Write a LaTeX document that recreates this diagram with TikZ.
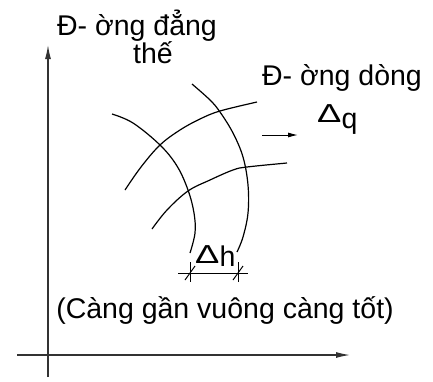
\documentclass[tikz,border=0pt]{standalone}
\usepackage{fontspec}
\usepackage{graphicx}
\setmainfont{Liberation Sans}
\usetikzlibrary{arrows.meta}
\newcommand{\dlt}[1]{\raisebox{#1}{\fontsize{26}{26}\selectfont\scalebox{1.4}[1]{Δ}}}
\begin{document}
\begin{tikzpicture}[x=1pt,y=-1pt,
  lbl/.style={inner sep=0pt,font=\fontsize{28.5}{30}\selectfont},
  curve/.style={line width=1.2pt,black,line join=round},
  axis/.style={line width=1.2pt,black!80,-{Latex[length=14pt,width=6pt]}},
  dim/.style={line width=1pt,black}]
\useasboundingbox (0,0) rectangle (433,381);
% axes
\coordinate (yb) at (48,377);
\coordinate (yt) at (48,45);
\coordinate (xl) at (17,355);
\coordinate (xr) at (350,355);
\draw[axis] (yb) -- (yt);
\draw[axis] (xl) -- (xr);
% equipotential lines
\draw[curve] plot[smooth,tension=0.6] coordinates {(112,114) (133,123) (160,145) (177,166) (188,190) (194,213) (195,233) (190,253)};
\draw[curve] plot[smooth,tension=0.6] coordinates {(192,84) (210,100) (220,112) (233,133) (243,157) (248,185) (248,213) (243,237) (237,252)};
% flow lines
\draw[curve] plot[smooth,tension=0.6] coordinates {(125,190) (141,167) (160,145) (180,130) (200,119) (220,111) (257,102)};
\draw[curve] plot[smooth,tension=0.6] coordinates {(152,229) (167,210) (188,191) (210,180) (233,170) (247,167) (287,163)};
% flow arrow
\coordinate (a1) at (262,135);
\coordinate (a2) at (298,135);
\draw[line width=1pt,-{Latex[length=10pt,width=5pt]}] (a1) -- (a2);
% dimension
\coordinate (d1) at (178,273);
\coordinate (d2) at (248,273);
\draw[dim] (d1) -- (d2);
\draw[dim] (190,262) -- (190,282);
\draw[dim] (238,262) -- (238,282);
\draw[dim] (185,280) -- (195,266);
\draw[dim] (233,280) -- (243,266);
% labels
\node[lbl,anchor=base] (t1) at (137,35) {Đ- ờng đẳng};
\node[lbl,anchor=base] (t2) at (153,63) {thế};
\node[lbl,anchor=base] (t3) at (342,85) {Đ- ờng dòng};
\node[lbl,anchor=base west] (dq) at (317,128) {\dlt{6pt}q};
\node[lbl,anchor=base west] (dh) at (195,266) {\dlt{3pt}h};
\node[lbl,anchor=base] (t4) at (225,318) {(Càng gần vuông càng tốt)};
\end{tikzpicture}
\end{document}
